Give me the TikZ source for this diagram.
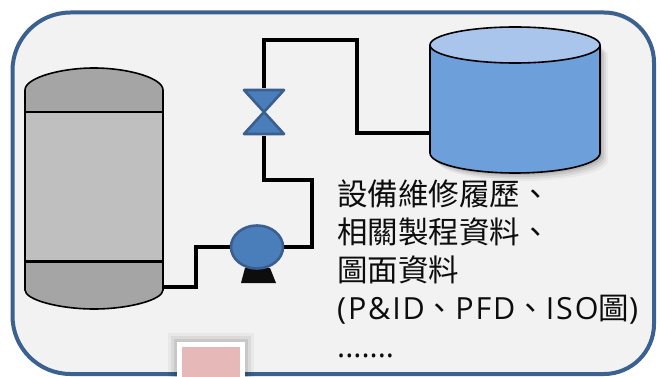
\documentclass[tikz,border=0pt]{standalone}
\usepackage{fontspec}
\newfontfamily\cjk{Noto Sans CJK TC}
\newfontfamily\lat{Open Sans}
\newfontfamily\latwide[LetterSpace=6]{Open Sans}
\usetikzlibrary{calc,shapes.geometric}
\definecolor{frameblue}{HTML}{3B6190}
\definecolor{panel}{HTML}{F2F2F2}
\definecolor{vesseldark}{HTML}{A5A5A5}
\definecolor{vessellight}{HTML}{BFBFBF}
\definecolor{equipblue}{HTML}{4A7EBB}
\definecolor{equipedge}{HTML}{3A5F8F}
\definecolor{tankbody}{HTML}{6D9FDB}
\definecolor{tanktop}{HTML}{A9C5EB}
\definecolor{notepink}{HTML}{E6B9B8}
\tikzset{
  pipe/.style={line width=4pt, black, line join=miter},
  shell/.style={line width=1.6pt, black},
  equip/.style={line width=2.6pt, draw=equipedge, fill=equipblue, line join=round},
}
\begin{document}
\begin{tikzpicture}[x=1pt,y=-1pt]
\useasboundingbox (0,0) rectangle (661,377);
% panel
\fill[white] (0,0) rectangle (661,377);
\draw[line width=4pt, draw=frameblue, fill=panel]
  (12.5,70) [rounded corners=58pt] -- (12.5,12.5) [rounded corners=50pt] -- (654,12.5)
  [rounded corners=50pt] -- (654,374) [rounded corners=58pt] -- (12.5,374) [sharp corners] -- cycle;

% process vessel
\coordinate (vessel) at (94,190);
\coordinate (vesselout) at (163,287);
\filldraw[shell, fill=vessellight] (25,112) rectangle (163,261);
\filldraw[shell, fill=vesseldark] (25,112) -- (25,90) .. controls (25,78) and (60,68) .. (94,68)
  .. controls (128,68) and (163,78) .. (163,90) -- (163,112) -- cycle;
\filldraw[shell, fill=vesseldark] (25,262) -- (25,290) .. controls (25,300) and (60,309) .. (94,309)
  .. controls (128,309) and (163,300) .. (163,290) -- (163,262) -- cycle;

% storage tank
\coordinate (tank) at (515,100);
\coordinate (tankin) at (430,133);
\foreach \d/\o in {2/0.10,4/0.08,6/0.06,8/0.04} {
  \fill[black, opacity=\o] ($(430,45)+(\d,\d)$) -- ($(430,153)+(\d,\d)$)
    .. controls ($(430,164)+(\d,\d)$) and ($(468,173)+(\d,\d)$) .. ($(515,173)+(\d,\d)$)
    .. controls ($(562,173)+(\d,\d)$) and ($(600,164)+(\d,\d)$) .. ($(600,153)+(\d,\d)$)
    -- ($(600,45)+(\d,\d)$) -- cycle;
}
\fill[tankbody] (430,45) -- (430,153) .. controls (430,164) and (468,173) .. (515,173)
  .. controls (562,173) and (600,164) .. (600,153) -- (600,45) -- cycle;
\draw[shell] (430,45) -- (430,153) .. controls (430,164) and (468,173) .. (515,173)
  .. controls (562,173) and (600,164) .. (600,153) -- (600,45);
\filldraw[shell, fill=tanktop] (515,45) ellipse [x radius=85, y radius=18];

% pump
\fill[black!95] (245,268) -- (270,268) -- (276,283) -- (241,283) -- cycle;
\node[equip, shape=ellipse, minimum width=52pt, minimum height=43pt, inner sep=0pt] (pump) at (257,247) {};

% valve
\coordinate (valve) at (264,112);
\filldraw[equip] (244,90) -- (284,90) -- (valve) -- cycle;
\filldraw[equip] (valve) -- (244,134) -- (284,134) -- cycle;
\coordinate (valvetop) at (264,88);
\coordinate (valvebot) at (264,136);

% piping
\draw[pipe] (vesselout) -- (196,287) -- (196,247) -- (pump.west);
\draw[pipe] (pump.east) -- (312,247) -- (312,180) -- (264,180) -- (valvebot);
\draw[pipe] (valvetop) -- (264,40) -- (357,40) -- (357,133) -- (tankin);

% note card
\foreach \d/\o in {3/0.08,6/0.06,9/0.04} {
  \fill[black, opacity=\o] (177-\d,342-\d) rectangle (245+\d,380);
}
\fill[white] (177,342) rectangle (245,380);
\fill[notepink] (182,347) rectangle (240,380);

% description
\node[anchor=north west, align=left, inner sep=0pt, text=black!95,
  font=\cjk\fontsize{30.5}{38}\selectfont] (notes) at (337,180)
  {設備維修履歷、\\相關製程資料、\\圖面資料\\{\latwide(P\&ID}、{\latwide PFD}、{\latwide ISO}圖{\latwide)}\\{\lat.......}};
\end{tikzpicture}
\end{document}
